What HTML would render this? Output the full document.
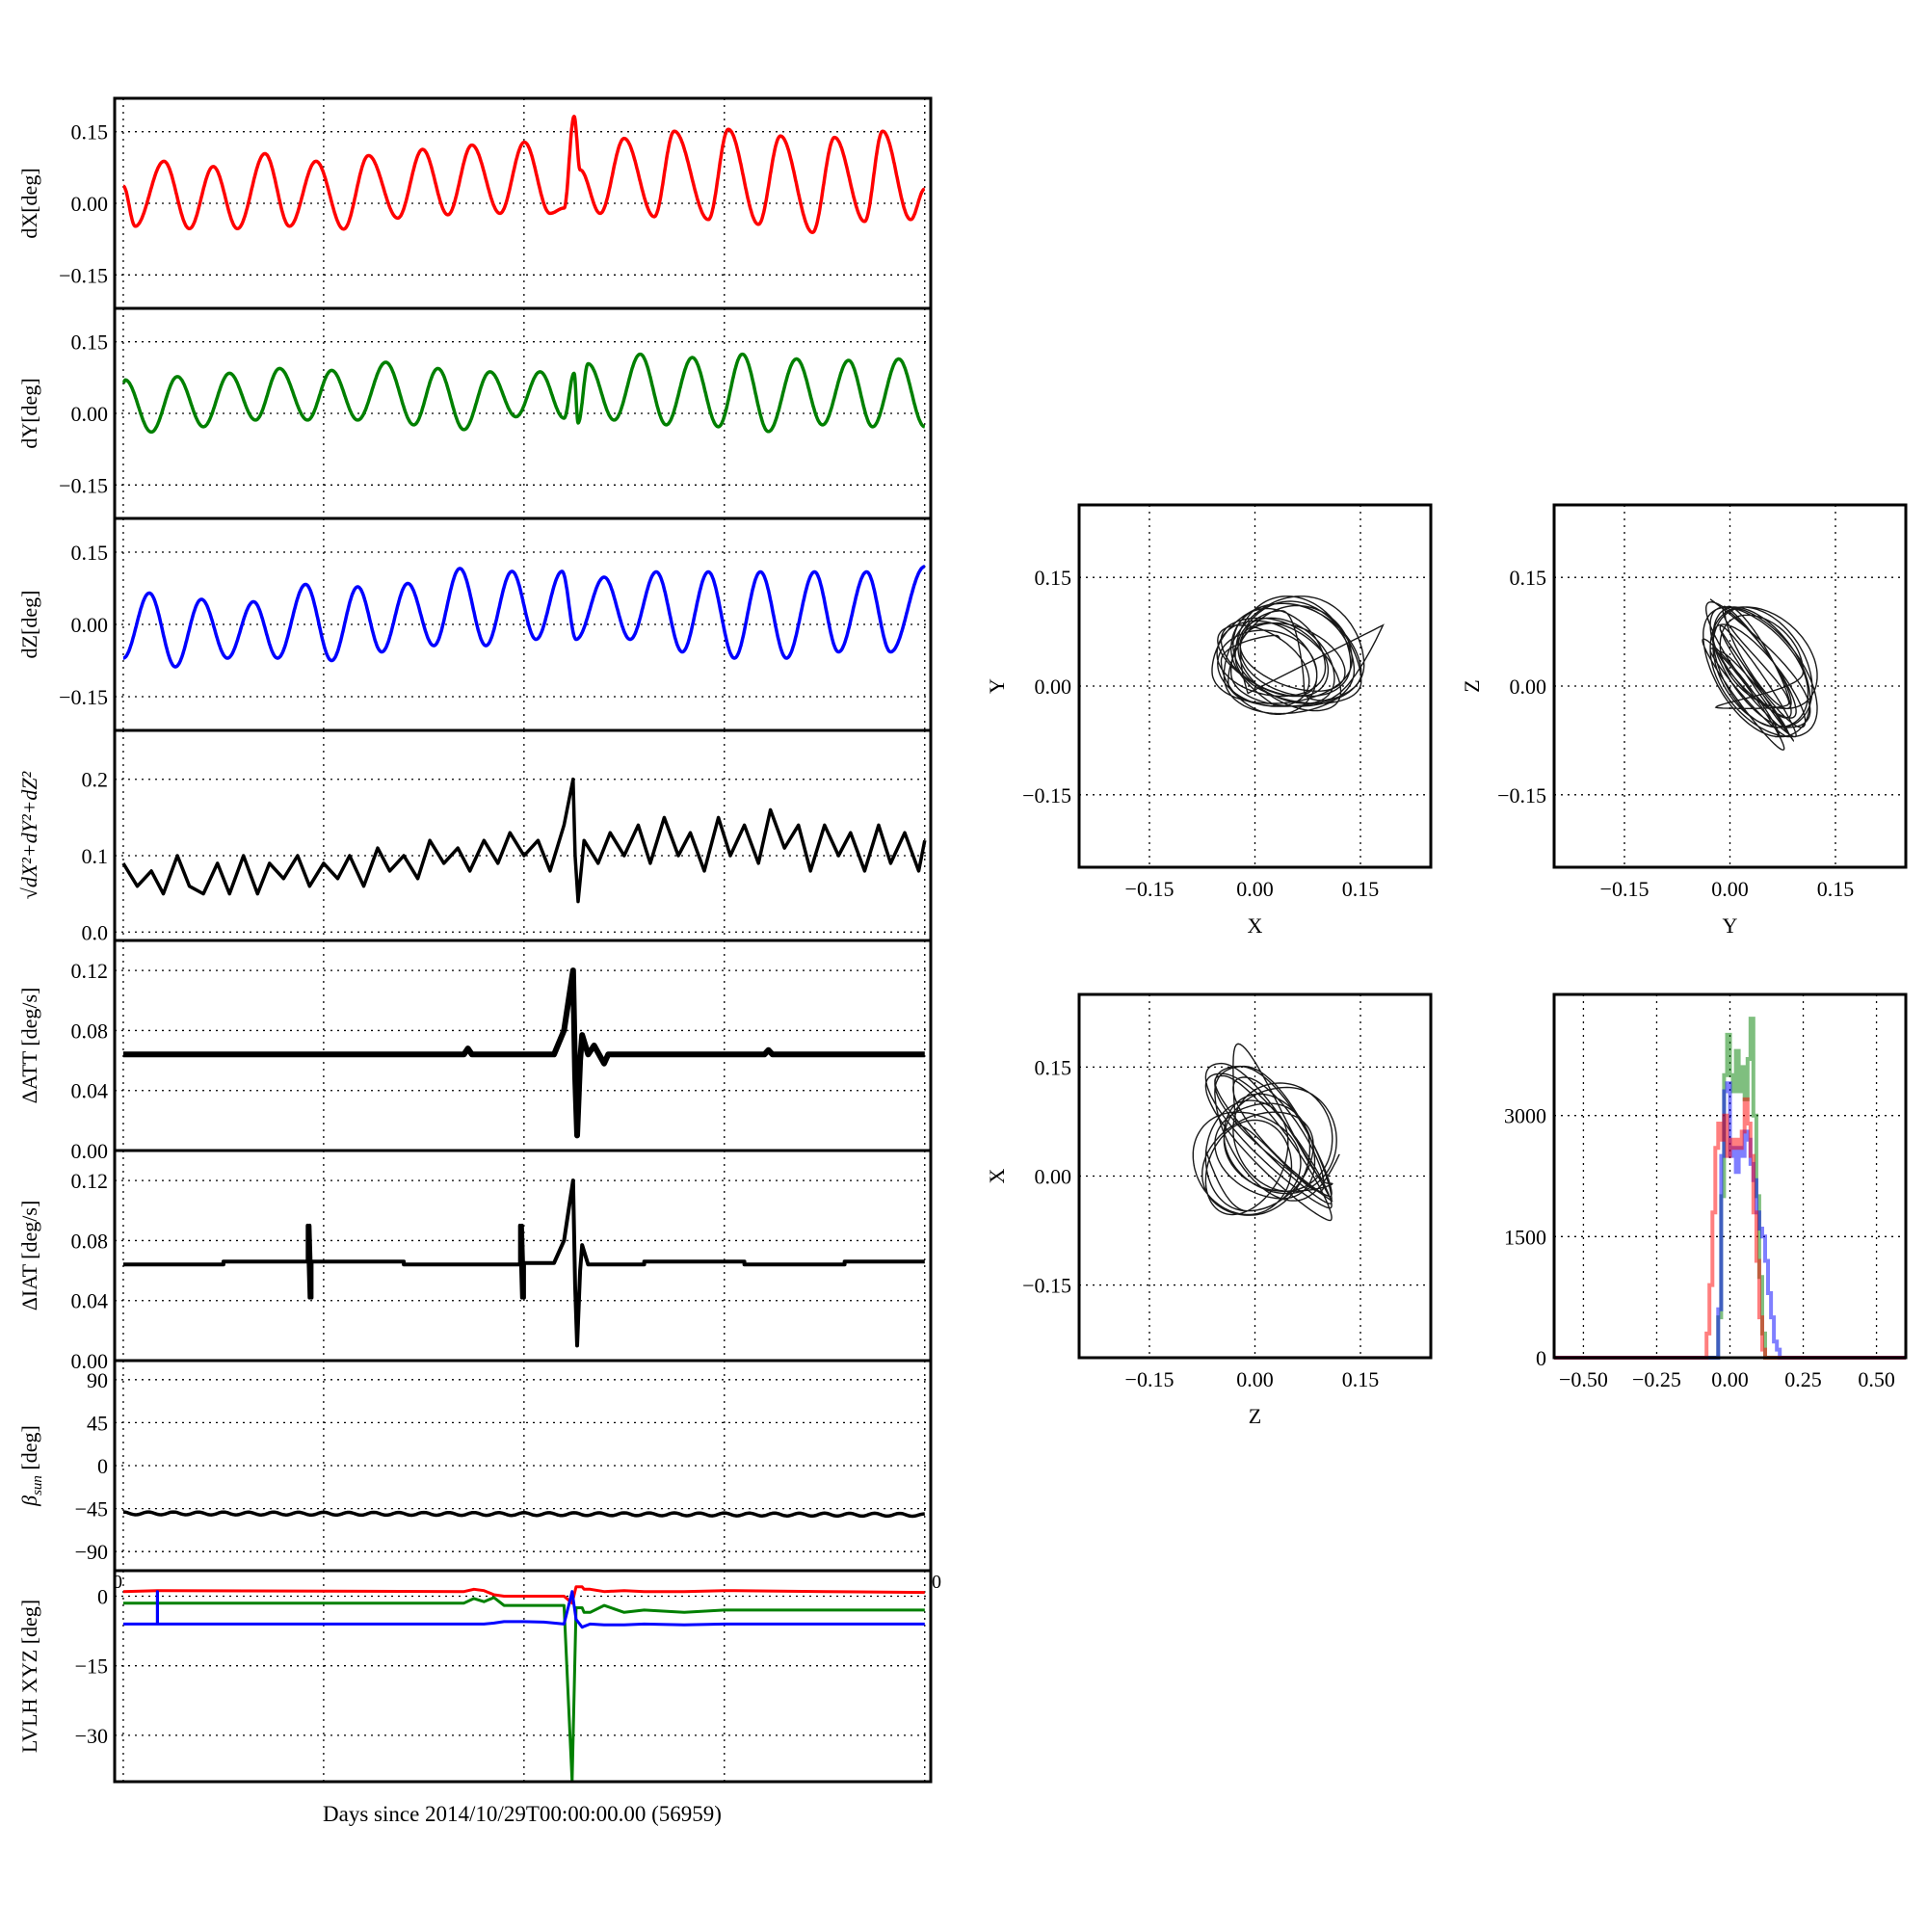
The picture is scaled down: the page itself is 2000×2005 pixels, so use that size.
<!DOCTYPE html>
<html><head><meta charset="utf-8"><style>
html,body{margin:0;padding:0;background:#fff;}
svg text{font-family:"Liberation Serif",serif;fill:#000;}
</style></head><body>
<svg id="fig" width="2000" height="2000" viewBox="0 0 2000 2000" xmlns="http://www.w3.org/2000/svg"></svg>
<script>
// ---------- DATA ----------
const xTicks = [0,1,2,3,4];
const dxDays = [0,0.06,0.203,0.33,0.449,0.57,0.707,0.83,0.962,1.10,1.224,1.37,1.494,1.62,1.74,1.88,2.002,2.13,2.20,2.25,2.28,2.38,2.50,2.65,2.75,2.92,3.02,3.17,3.28,3.44,3.55,3.70,3.79,3.93,4.0];
const dxVals = [0.036,-0.048,0.088,-0.053,0.077,-0.053,0.104,-0.048,0.088,-0.054,0.10,-0.031,0.113,-0.024,0.122,-0.021,0.128,-0.021,-0.01,0.182,0.07,-0.021,0.136,-0.028,0.151,-0.034,0.155,-0.044,0.141,-0.061,0.138,-0.038,0.151,-0.034,0.03];
const dyDays = [0,0.01,0.14,0.27,0.40,0.53,0.66,0.78,0.92,1.04,1.17,1.31,1.45,1.57,1.70,1.83,1.96,2.08,2.20,2.25,2.27,2.32,2.45,2.58,2.71,2.84,2.97,3.09,3.22,3.36,3.49,3.62,3.74,3.87,4.0];
const dyVals = [0.064,0.07,-0.039,0.077,-0.028,0.084,-0.014,0.094,-0.014,0.09,-0.014,0.107,-0.024,0.094,-0.034,0.087,-0.007,0.087,-0.01,0.084,-0.02,0.104,-0.014,0.124,-0.024,0.117,-0.028,0.124,-0.038,0.114,-0.024,0.111,-0.028,0.114,-0.028];
const dzDays = [0,0.13,0.26,0.39,0.52,0.65,0.77,0.91,1.04,1.17,1.29,1.42,1.55,1.68,1.81,1.94,2.06,2.19,2.26,2.40,2.53,2.66,2.79,2.92,3.05,3.18,3.31,3.45,3.57,3.71,3.83,4.0];
const dzVals = [-0.07,0.065,-0.088,0.052,-0.07,0.047,-0.07,0.083,-0.075,0.078,-0.057,0.085,-0.044,0.116,-0.044,0.11,-0.031,0.11,-0.031,0.098,-0.031,0.109,-0.057,0.109,-0.07,0.109,-0.07,0.109,-0.057,0.109,-0.057,0.12];
const rDays = [0,0.07,0.14,0.2,0.27,0.33,0.4,0.47,0.53,0.6,0.67,0.73,0.8,0.87,0.93,1.0,1.07,1.13,1.2,1.27,1.33,1.4,1.47,1.53,1.6,1.67,1.73,1.8,1.87,1.93,2.0,2.07,2.13,2.2,2.245,2.255,2.27,2.3,2.37,2.43,2.5,2.57,2.63,2.7,2.77,2.83,2.9,2.97,3.03,3.1,3.17,3.23,3.3,3.37,3.43,3.5,3.57,3.63,3.7,3.77,3.83,3.9,3.97,4.0];
const rVals = [0.09,0.06,0.08,0.05,0.1,0.06,0.05,0.09,0.05,0.1,0.05,0.09,0.07,0.1,0.06,0.09,0.07,0.1,0.06,0.11,0.08,0.1,0.07,0.12,0.09,0.11,0.08,0.12,0.09,0.13,0.1,0.12,0.08,0.14,0.2,0.1,0.04,0.12,0.09,0.13,0.1,0.14,0.09,0.15,0.1,0.13,0.08,0.15,0.1,0.14,0.09,0.16,0.11,0.14,0.08,0.14,0.1,0.13,0.08,0.14,0.09,0.13,0.08,0.12];
const attDays = [0,1.7,1.72,1.74,2.15,2.2,2.245,2.255,2.265,2.28,2.29,2.32,2.35,2.4,2.42,3.2,3.22,3.24,4.0];
const attVals = [0.064,0.064,0.068,0.064,0.064,0.08,0.12,0.05,0.01,0.06,0.077,0.064,0.07,0.058,0.064,0.064,0.067,0.064,0.064];
const iatDays = [0,0.5,0.5,0.92,0.92,0.93,0.93,0.94,0.94,1.4,1.4,1.98,1.98,1.99,1.99,2.0,2.0,2.15,2.2,2.245,2.255,2.265,2.28,2.29,2.32,2.4,2.6,2.6,3.1,3.1,3.6,3.6,4.0];
const iatVals = [0.064,0.064,0.066,0.066,0.09,0.042,0.09,0.042,0.066,0.066,0.064,0.064,0.09,0.042,0.09,0.042,0.065,0.065,0.08,0.12,0.05,0.01,0.06,0.077,0.064,0.064,0.064,0.066,0.066,0.064,0.064,0.066,0.066];
const betaExtrema = [-48.5,-51.5,-48.5,-51.5,-48.5,-51.5,-48.6,-51.6,-48.6,-51.6,-48.7,-51.7,-48.7,-51.7,-48.8,-51.8,-48.8,-51.8,-48.9,-51.9,-48.9,-51.9,-49,-52,-49,-52,-49.1,-52.1,-49.1,-52.1,-49.2,-52.2,-49.2,-52.2,-49.3,-52.3,-49.3,-52.3,-49.4,-52.4,-49.4,-52.4,-49.5,-52.5,-49.5,-52.5,-49.6,-52.6,-49.6,-52.6,-49.7,-52.7,-49.7,-52.7,-49.8,-52.8,-49.8,-52.8,-49.9,-52.9,-49.9,-52.9,-50,-53,-50.5];
const lvDays = [0,0.17,0.17,0.171,0.171,1.7,1.75,1.8,1.85,1.9,2.0,2.1,2.2,2.24,2.26,2.29,2.3,2.33,2.4,2.5,2.6,2.8,3.0,3.5,4.0];
const lvRed = [1,1.2,1.2,1.2,1.2,1,1.5,1.2,0.3,0,0,0,0,-1.5,2,2,1.5,1.5,1,1.2,1,1,1.2,1,0.8];
const lvGreen = [-1.5,-1.5,-1.5,-1.5,-1.5,-1.5,-0.5,-1.2,-0.3,-2,-2,-2,-2,-40,-2.5,-2.5,-3.5,-3.5,-2,-3.5,-3,-3.5,-3,-3,-3];
const lvBlue = [-6,-6,1,1,-6,-6,-6,-6,-5.8,-5.5,-5.5,-5.6,-6,1,-5,-6.7,-6.5,-6,-6.2,-6.2,-6,-6.2,-6,-6,-6];
const histEdges = [-0.10,-0.09,-0.08,-0.07,-0.06,-0.05,-0.04,-0.03,-0.02,-0.01,0,0.01,0.02,0.03,0.04,0.05,0.06,0.07,0.08,0.09,0.10,0.11,0.12,0.13,0.14,0.15,0.16,0.17,0.18,0.19,0.20];
const histRed = [0,0,300,900,1800,2600,2900,2700,3000,2500,2700,2600,2700,2600,2800,3200,2900,2500,1800,1200,500,100,0,0,0,0,0,0,0,0];
const histGreen = [0,0,0,0,0,0,500,2000,3500,4000,3500,3300,3800,3300,3600,3200,3700,4200,3000,2000,1000,300,0,0,0,0,0,0,0,0];
const histBlue = [0,0,0,0,0,0,600,2500,3300,3400,2500,2600,2300,2600,2500,2800,2700,2400,2200,1800,1600,1500,1200,800,500,200,100,0,0,0];

// ---------- DRAWING ----------
const NS = "http://www.w3.org/2000/svg";
const svg = document.getElementById('fig');
function mk(tag, attrs, parent){const e=document.createElementNS(NS,tag);for(const k in attrs)e.setAttribute(k,attrs[k]);(parent||svg).appendChild(e);return e;}
function lin(d0,d1,p0,p1){return v=>p0+(v-d0)/(d1-d0)*(p1-p0);}
function interp(ds,vs,t){if(t<=ds[0])return vs[0];for(let i=1;i<ds.length;i++){if(t<=ds[i]){const a=ds[i-1],b=ds[i];return b===a?vs[i]:vs[i-1]+(vs[i]-vs[i-1])*(t-a)/(b-a);}}return vs[vs.length-1];}
function cosInterp(ds,vs,t){if(t<=ds[0])return vs[0];for(let i=1;i<ds.length;i++){if(t<=ds[i]){const a=ds[i-1],b=ds[i];if(b===a)return vs[i];const f=(1-Math.cos(Math.PI*(t-a)/(b-a)))/2;return vs[i-1]+(vs[i]-vs[i-1])*f;}}return vs[vs.length-1];}
function grid(x0,x1,y0,y1,sx,sy,xt,yt){
  xt.forEach(v=>{const l=mk('line',{x1:sx(v),x2:sx(v),y1:y0,y2:y1,stroke:'#000','stroke-width':1.3,'stroke-dasharray':'2,5'});
    });
  yt.forEach(v=>{const l=mk('line',{x1:x0,x2:x1,y1:sy(v),y2:sy(v),stroke:'#000','stroke-width':1.3,'stroke-dasharray':'2,5'});
    });
}
function frame(x0,x1,y0,y1,name){const r=mk('rect',{x:x0,y:y0,width:x1-x0,height:y1-y0,fill:'none',stroke:'#000','stroke-width':3});
  }
function pathFrom(xs,ys,sx,sy){return xs.map((x,i)=>(i?'L':'M')+sx(x).toFixed(1)+','+sy(ys[i]).toFixed(1)).join('');}
function txt(x,y,s,anchor,size,name,rot){const t=mk('text',{x:x,y:y,'text-anchor':anchor,'font-size':size});t.textContent=s;
  if(rot)t.setAttribute('transform','rotate(-90 '+x+' '+y+')');
  return t;}

const tgrid=[]; for(let t=0;t<=4.0001;t+=0.002) tgrid.push(t);
const X=tgrid.map(t=>cosInterp(dxDays,dxVals,t)), Y=tgrid.map(t=>cosInterp(dyDays,dyVals,t)), Z=tgrid.map(t=>cosInterp(dzDays,dzVals,t));

// Left stacked panels
const LX0=119, LX1=966;
const sxL = lin(-0.043,4.03,LX0,LX1);
const tops=[102,320,538,758,976,1194,1412,1630,1849];
const panels=[
 {name:'dx',ylim:[-0.22,0.22],ticks:[-0.15,0,0.15],lab:['−0.15','0.00','0.15'],yl:'dX[deg]',series:[[tgrid,X,'#ff0000']]},
 {name:'dy',ylim:[-0.22,0.22],ticks:[-0.15,0,0.15],lab:['−0.15','0.00','0.15'],yl:'dY[deg]',series:[[tgrid,Y,'#008000']]},
 {name:'dz',ylim:[-0.22,0.22],ticks:[-0.15,0,0.15],lab:['−0.15','0.00','0.15'],yl:'dZ[deg]',series:[[tgrid,Z,'#0000ff']]},
 {name:'total',ylim:[-0.011,0.264],ticks:[0,0.1,0.2],lab:['0.0','0.1','0.2'],yl:'√dX²+dY²+dZ²',series:[[rDays,rVals,'#000']]},
 {name:'datt',ylim:[0,0.14],ticks:[0,0.04,0.08,0.12],lab:['0.00','0.04','0.08','0.12'],yl:'ΔATT [deg/s]',series:[[attDays,attVals,'#000']],w:6},
 {name:'diat',ylim:[0,0.14],ticks:[0,0.04,0.08,0.12],lab:['0.00','0.04','0.08','0.12'],yl:'ΔIAT [deg/s]',series:[[iatDays,iatVals,'#000']],w:4},
 {name:'beta',ylim:[-110,110],ticks:[-90,-45,0,45,90],lab:['−90','−45','0','45','90'],yl:'βsun [deg]',beta:true},
 {name:'lvlh',ylim:[-40,5.5],ticks:[-30,-15,0],lab:['−30','−15','0'],yl:'LVLH XYZ [deg]',series:[[lvDays,lvRed,'#ff0000'],[lvDays,lvGreen,'#008000'],[lvDays,lvBlue,'#0000ff']],w:3}
];
panels.forEach((p,i)=>{
  const y0=tops[i], y1=tops[i+1];
  const sy=lin(p.ylim[0],p.ylim[1],y1,y0);
  const g=mk('g',{});
  grid(LX0,LX1,y0,y1,sxL,sy,xTicks,p.ticks);
  if(p.beta){
    const bt=[];for(let t=0;t<=4.0001;t+=0.01)bt.push(t);
    const bx=betaExtrema.map((v,k)=>k*4/(betaExtrema.length-1));
    const bv=bt.map(t=>cosInterp(bx,betaExtrema,t));
    const pa=mk('path',{d:pathFrom(bt,bv,sxL,sy),fill:'none',stroke:'#000','stroke-width':3.5,'stroke-linejoin':'round'});
    
  } else p.series.forEach(s=>{
    const pa=mk('path',{d:pathFrom(s[0],s[1],sxL,sy),fill:'none',stroke:s[2],'stroke-width':p.w||3.5,'stroke-linejoin':'round'});
    
  });
  p.ticks.forEach((v,k)=>{txt(112,sy(v)+8,p.lab[k],'end',22,'y-tick-label');});
  const ylab=txt(38,(y0+y1)/2,p.yl,'middle',22,'y-axis-title-'+p.name,true);
  if(p.name==='beta'){ylab.textContent='';const a=mk('tspan',{'font-style':'italic'},ylab);a.textContent='β';const b=mk('tspan',{'font-style':'italic','font-size':15,dy:5},ylab);b.textContent='sun';const c=mk('tspan',{dy:-5},ylab);c.textContent=' [deg]';}
  if(p.name==='total'){ylab.setAttribute('font-style','italic');}
  frame(LX0,LX1,y0,y1,'frame-'+p.name);
});
txt(122,1648,'0','middle',20,'x-tick-label');
txt(972,1648,'0','middle',20,'x-tick-label');
txt(542,1890,'Days since 2014/10/29T00:00:00.00 (56959)','middle',23,'x-axis-title');

// Right scatter panels
const sc=[
 {x0:1120,x1:1485,y0:524,y1:900,xs:X,ys:Y,xl:'X',yl:'Y',name:'x-vs-y'},
 {x0:1613,x1:1978,y0:524,y1:900,xs:Y,ys:Z,xl:'Y',yl:'Z',name:'y-vs-z'},
 {x0:1120,x1:1485,y0:1032,y1:1409,xs:Z,ys:X,xl:'Z',yl:'X',name:'z-vs-x'}
];
const st=[-0.15,0,0.15], stl=['−0.15','0.00','0.15'];
sc.forEach(p=>{
  const sx=lin(-0.25,0.25,p.x0,p.x1), sy=lin(-0.25,0.25,p.y1,p.y0);
  const g=mk('g',{});
  grid(p.x0,p.x1,p.y0,p.y1,sx,sy,st,st);
  const pa=mk('path',{d:pathFrom(p.xs,p.ys,sx,sy),fill:'none',stroke:'#000','stroke-width':1.4,'stroke-opacity':0.9});
  
  st.forEach((v,k)=>{txt(sx(v),p.y1+30,stl[k],'middle',22,'x-tick-label');txt(p.x0-8,sy(v)+8,stl[k],'end',22,'y-tick-label');});
  txt((p.x0+p.x1)/2,p.y1+68,p.xl,'middle',22,'x-axis-title');
  txt(p.x0-78,(p.y0+p.y1)/2,p.yl,'middle',22,'y-axis-title',true);
  frame(p.x0,p.x1,p.y0,p.y1,'frame-'+p.name);
});

// Histogram
(function(){
  const x0=1613,x1=1978,y0=1032,y1=1409;
  const sx=lin(-0.6,0.6,x0,x1), sy=lin(0,4500,y1,y0);
  grid(x0,x1,y0,y1,sx,sy,[-0.5,-0.25,0,0.25,0.5],[0,1500,3000]);
  function stepPath(counts){
    let d='M'+sx(-0.6)+','+sy(0)+'L'+sx(histEdges[0])+','+sy(0);
    counts.forEach((c,i)=>{d+='L'+sx(histEdges[i]).toFixed(1)+','+sy(c).toFixed(1)+'L'+sx(histEdges[i+1]).toFixed(1)+','+sy(c).toFixed(1);});
    d+='L'+sx(histEdges[histEdges.length-1])+','+sy(0)+'L'+sx(0.6)+','+sy(0);return d;}
  [[histGreen,'#008000','hist-dy'],[histBlue,'#0000ff','hist-dz'],[histRed,'#ff0000','hist-dx']].forEach(h=>{
    const pa=mk('path',{d:stepPath(h[0]),fill:'none',stroke:h[1],'stroke-width':4,'stroke-opacity':0.5});
    
  });
  [-0.5,-0.25,0,0.25,0.5].forEach((v,k)=>txt(sx(v),y1+30,['−0.50','−0.25','0.00','0.25','0.50'][k],'middle',22,'x-tick-label'));
  [0,1500,3000].forEach(v=>txt(x0-8,sy(v)+8,String(v),'end',22,'y-tick-label'));
  frame(x0,x1,y0,y1,'frame-histogram');
})();
</script>
</body></html>
